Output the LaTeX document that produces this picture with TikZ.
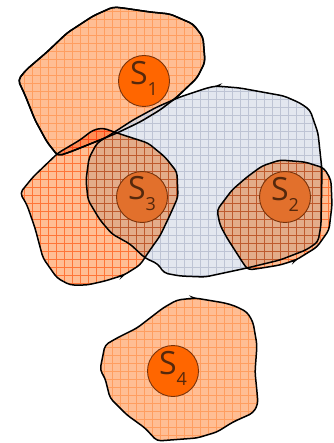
\documentclass[tikz,border=0pt]{standalone}
\usepackage{fontspec}
\usetikzlibrary{arrows.meta,patterns.meta,decorations.markings}
\newfontfamily\tagfont{Open Sans}
\definecolor{cellfill}{RGB}{255,190,148}
\definecolor{cellgrid}{RGB}{255,158,96}
\definecolor{bluefill}{RGB}{218,223,233}
\definecolor{bluegrid}{RGB}{190,196,212}
\definecolor{seedfill}{RGB}{255,102,0}
\definecolor{seeddim}{RGB}{226,112,44}
\definecolor{seedline}{RGB}{120,50,10}
\definecolor{tagtext}{RGB}{85,40,12}
\newcommand{\tagsub}[1]{\raisebox{-11pt}{\fontsize{18}{18}\selectfont #1}}

\begin{document}
\begin{tikzpicture}[x=1pt, y=-1pt,
  cell/.style={draw=black, line width=1.5pt, line join=round, rounded corners=4pt, preaction={fill=cellfill}, pattern={Hatch[distance=8pt, line width=0.4pt]}, pattern color=cellgrid},
  area/.style={draw=black, line width=1.5pt, line join=round, rounded corners=4pt, preaction={fill=bluefill, fill opacity=0.75}, fill opacity=0.75, pattern={Hatch[distance=8pt, line width=0.4pt]}, pattern color=bluegrid},
  seed/.style={circle, draw=seedline, fill=seedfill, line width=0.9pt, minimum size=51pt, inner sep=0pt},
  tag/.style={font=\tagfont\fontsize{32}{32}\selectfont, text=tagtext, inner sep=0pt, yshift=3pt},
  tip/.style={postaction={decorate, decoration={markings, mark=at position 0.998 with {\arrow{Stealth[length=9pt, width=4pt]}}}}}
]
\useasboundingbox (0,0) rectangle (333,443);

% Cell S1 (under the grey region)
\path[cell, save path=\sonepath] (18,80) -- (26,70) -- (47,52) -- (67,33) -- (93,16) -- (113,7) -- (123,8) -- (150,12) -- (170,14) -- (193,24) -- (203,37) -- (205,62) -- (197,78) -- (177,97) -- (160,110) -- (140,122) -- (117,133) -- (100,140) -- (85,146) -- (70,152) -- (58,156) -- (47,142) -- (35,120) -- (25,95) -- cycle;
\node[seed] (seed1) at (144,81) {};
\node[tag] (tag1) at (seed1) {S\tagsub{1}};

% Grey region
\path[area, tip] (216,86) -- (207,88) -- (180,97) -- (157,107) -- (133,120) -- (113,133) -- (97,143) -- (89,158) -- (86,180) -- (88,200) -- (100,220) -- (112,234) -- (130,244) -- (145,258) -- (158,264) -- (164,273) -- (180,276) -- (205,277) -- (247,268) -- (280,260) -- (306,250) -- (318,242) -- (321,225) -- (322,170) -- (318,133) -- (310,110) -- (300,103) -- (284,96) -- (240,88) -- cycle;
\draw[line width=1.5pt, line join=round, rounded corners=4pt, use path=\sonepath];

% Cells S3 and S2 (over the grey region)
\begin{scope}[blend mode=multiply]
\path[cell, tip] (124,275) -- (140,265) -- (150,250) -- (160,236) -- (170,215) -- (178,197) -- (177,172) -- (165,157) -- (148,143) -- (117,133) -- (103,128) -- (93,130) -- (80,140) -- (58,153) -- (33,177) -- (20,193) -- (27,205) -- (35,228) -- (43,258) -- (57,278) -- (70,285) -- (87,285) -- (105,281) -- cycle;
\path[cell, tip] (296,260) -- (317,247) -- (329,230) -- (332,205) -- (331,180) -- (324,168) -- (305,162) -- (280,160) -- (262,166) -- (247,177) -- (232,190) -- (217,210) -- (220,225) -- (227,238) -- (236,252) -- (243,263) -- (248,270) -- (262,268) -- (280,265) -- cycle;
\end{scope}
\node[seed, fill=seeddim] (seed3) at (142,197) {};
\node[tag] (tag3) at (seed3) {S\tagsub{3}};
\node[seed, fill=seeddim] (seed2) at (285,197) {};
\node[tag] (tag2) at (seed2) {S\tagsub{2}};

% Cell S4
\path[cell, tip] (195,298) -- (225,303) -- (235,306) -- (247,312) -- (253,322) -- (257,345) -- (255,372) -- (257,392) -- (258,404) -- (253,413) -- (233,422) -- (217,432) -- (197,438) -- (157,441) -- (145,428) -- (127,415) -- (110,398) -- (105,378) -- (100,370) -- (105,345) -- (117,338) -- (137,328) -- (163,308) -- (177,300) -- cycle;
\node[seed] (seed4) at (173,371) {};
\node[tag] (tag4) at (seed4) {S\tagsub{4}};
\end{tikzpicture}
\end{document}
